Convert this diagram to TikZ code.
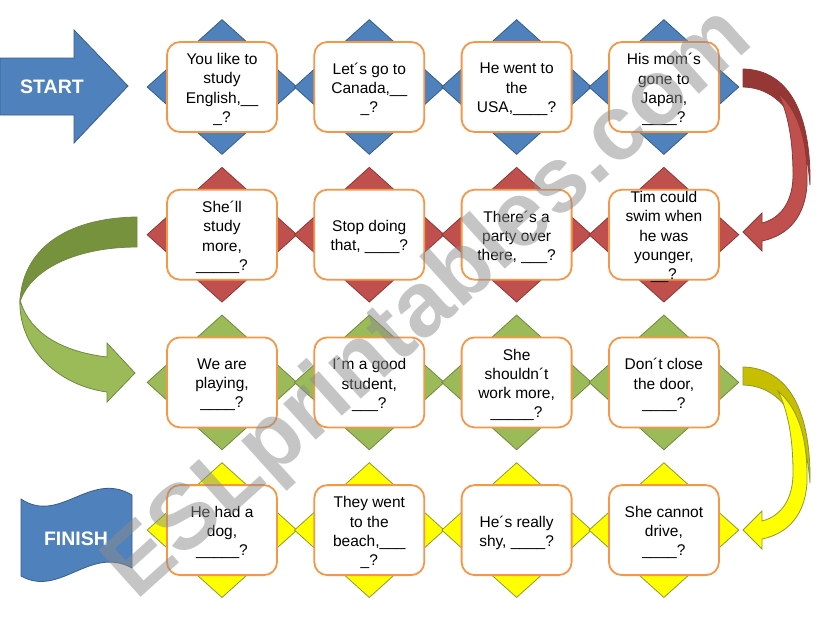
\documentclass[tikz,border=0pt]{standalone}
\usepackage{fontspec}
\setmainfont{Liberation Sans}
\usetikzlibrary{shapes.geometric}

\definecolor{tileblue}{HTML}{4F81BD}
\definecolor{tilebluedark}{HTML}{385D8A}
\definecolor{tilered}{HTML}{C0504D}
\definecolor{tilereddark}{HTML}{8C3836}
\definecolor{arrowreddark}{HTML}{953735}
\definecolor{tilegreen}{HTML}{9BBB59}
\definecolor{tilegreendark}{HTML}{71893F}
\definecolor{arrowgreendark}{HTML}{76923C}
\definecolor{tileyellow}{HTML}{FFFF00}
\definecolor{tileyellowline}{HTML}{8C9A34}
\definecolor{arrowyellowdark}{HTML}{C8BE00}
\definecolor{boxorange}{HTML}{F79646}

\tikzset{
	tile/.style={diamond, minimum width=150pt, minimum height=135pt, inner sep=0pt, line width=0.8pt},
	bluetile/.style={tile, fill=tileblue, draw=tilebluedark},
	redtile/.style={tile, fill=tilered, draw=tilereddark},
	greentile/.style={tile, fill=tilegreen, draw=tilegreendark},
	yellowtile/.style={tile, fill=tileyellow, draw=tileyellowline},
	qbox/.style={rectangle, rounded corners=13pt, draw=boxorange, line width=1.8pt, fill=white, minimum width=110pt, minimum height=90pt},
	qtext/.style={align=center, inner sep=0pt, yshift=-2.5pt, font=\fontsize{15.5}{19.3}\selectfont},
	signtext/.style={text=white, font=\bfseries\fontsize{19.5}{22}\selectfont},
	watermark/.style={text=black!45, opacity=0.5, rotate=42, font=\bfseries\fontsize{92}{96}\selectfont},
}

\begin{document}
\begin{tikzpicture}[x=1pt,y=-1pt]
	\useasboundingbox (0,0) rectangle (821,616);
	% tiles
	\node[bluetile] (d11) at (222,87) {};
	\node[bluetile] (d12) at (369.3,87) {};
	\node[bluetile] (d13) at (516.6,87) {};
	\node[bluetile] (d14) at (663.9,87) {};
	\node[redtile] (d21) at (222,234.7) {};
	\node[redtile] (d22) at (369.3,234.7) {};
	\node[redtile] (d23) at (516.6,234.7) {};
	\node[redtile] (d24) at (663.9,234.7) {};
	\node[greentile] (d31) at (222,382.4) {};
	\node[greentile] (d32) at (369.3,382.4) {};
	\node[greentile] (d33) at (516.6,382.4) {};
	\node[greentile] (d34) at (663.9,382.4) {};
	\node[yellowtile] (d41) at (222,530.1) {};
	\node[yellowtile] (d42) at (369.3,530.1) {};
	\node[yellowtile] (d43) at (516.6,530.1) {};
	\node[yellowtile] (d44) at (663.9,530.1) {};
	% question cards
	\node[qbox] (q11) at (d11) {};
	\node[qbox] (q12) at (d12) {};
	\node[qbox] (q13) at (d13) {};
	\node[qbox] (q14) at (d14) {};
	\node[qbox] (q21) at (d21) {};
	\node[qbox] (q22) at (d22) {};
	\node[qbox] (q23) at (d23) {};
	\node[qbox] (q24) at (d24) {};
	\node[qbox] (q31) at (d31) {};
	\node[qbox] (q32) at (d32) {};
	\node[qbox] (q33) at (d33) {};
	\node[qbox] (q34) at (d34) {};
	\node[qbox] (q41) at (d41) {};
	\node[qbox] (q42) at (d42) {};
	\node[qbox] (q43) at (d43) {};
	\node[qbox] (q44) at (d44) {};
	\node[qtext] (t11) at (q11) {You like to\\study\\English,\_\_\\\_?};
	\node[qtext] (t12) at (q12) {Let´s go to\\Canada,\_\_\\\_?};
	\node[qtext] (t13) at (q13) {He went to\\the\\USA,\_\_\_\_?};
	\node[qtext] (t14) at (q14) {His mom´s\\gone to\\Japan,\\\_\_\_\_?};
	\node[qtext] (t21) at (q21) {She´ll\\study\\more,\\\_\_\_\_\_?};
	\node[qtext] (t22) at (q22) {Stop doing\\that, \_\_\_\_?};
	\node[qtext] (t23) at (q23) {There´s a\\party over\\there, \_\_\_?};
	\node[qtext] (t24) at (q24) {Tim could\\swim when\\he was\\younger,\\\_\_?};
	\node[qtext] (t31) at (q31) {We are\\playing,\\\_\_\_\_?};
	\node[qtext] (t32) at (q32) {I´m a good\\student,\\\_\_\_?};
	\node[qtext] (t33) at (q33) {She\\shouldn´t\\work more,\\\_\_\_\_\_?};
	\node[qtext] (t34) at (q34) {Don´t close\\the door,\\\_\_\_\_?};
	\node[qtext] (t41) at (q41) {He had a\\dog,\\\_\_\_\_\_?};
	\node[qtext] (t42) at (q42) {They went\\to the\\beach,\_\_\_\\\_?};
	\node[qtext] (t43) at (q43) {He´s really\\shy, \_\_\_\_?};
	\node[qtext] (t44) at (q44) {She cannot\\drive,\\\_\_\_\_?};
	% start and finish
	\filldraw[fill=tileblue, draw=tilebluedark, line width=0.8pt] (0,58) -- (74,58) -- (74,30) -- (128,86) -- (74,143) -- (74,115) -- (0,115) -- cycle;
	\node[signtext] (start) at (52,87) {START};
	\filldraw[fill=tileblue, draw=tilebluedark, line width=0.8pt] (21,499) .. controls (60,525) and (90,470) .. (132,495) -- (132,568) .. controls (90,545) and (60,598) .. (21,576) -- cycle;
	\node[signtext] (finish) at (76,539) {FINISH};
	% turn arrows
	\filldraw[fill=arrowreddark, draw=tilereddark, line width=0.8pt] (743,69) .. controls (790,70) and (811,115) .. (810,185) .. controls (806,130) and (785,88) .. (743,87) -- cycle;
	\filldraw[fill=tilered, draw=tilereddark, line width=0.8pt] (778,93) .. controls (798,110) and (808,140) .. (807,185) .. controls (805,215) and (790,235) .. (762,241) -- (762,251) -- (743,232) -- (762,213) -- (762,223) .. controls (782,218) and (793,200) .. (793,175) .. controls (793,140) and (788,113) .. (778,93) -- cycle;
	\filldraw[fill=arrowgreendark, draw=tilegreendark, line width=0.8pt] (137,217) .. controls (65,218) and (22,250) .. (20,302) .. controls (30,270) and (75,247) .. (137,247) -- cycle;
	\filldraw[fill=tilegreen, draw=tilegreendark, line width=0.8pt] (20,300) .. controls (18,345) and (55,385) .. (107,392) -- (107,402) -- (135,373) -- (107,343) -- (107,357) .. controls (65,352) and (30,335) .. (20,300) -- cycle;
	\filldraw[fill=arrowyellowdark, draw=tileyellowline, line width=0.8pt] (743,367) .. controls (790,368) and (811,413) .. (810,483) .. controls (806,428) and (785,386) .. (743,385) -- cycle;
	\filldraw[fill=tileyellow, draw=tileyellowline, line width=0.8pt] (778,391) .. controls (798,408) and (808,438) .. (807,483) .. controls (805,513) and (790,533) .. (762,539) -- (762,549) -- (743,530) -- (762,511) -- (762,521) .. controls (782,516) and (793,498) .. (793,473) .. controls (793,438) and (788,411) .. (778,391) -- cycle;
	% watermark
	\node[watermark] (wm) at (430,305) {ESLprintables.com};
\end{tikzpicture}
\end{document}
